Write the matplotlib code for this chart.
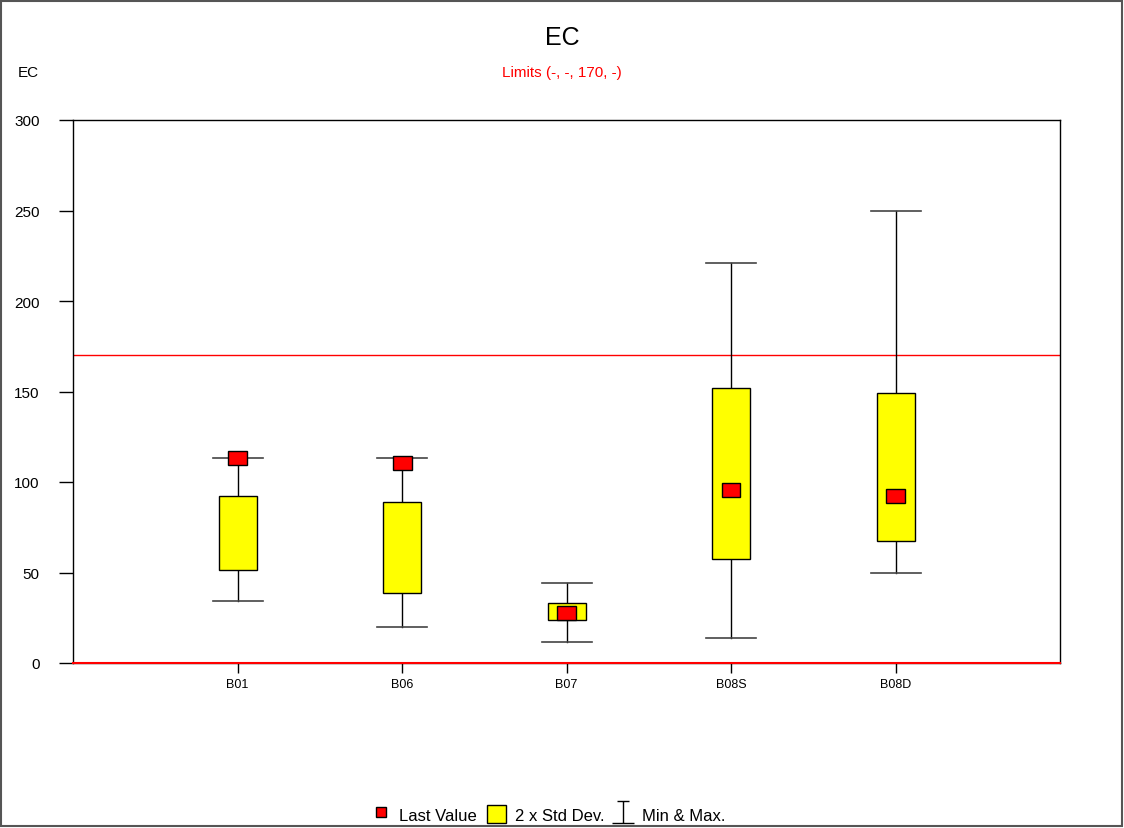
import matplotlib
matplotlib.use("Agg")
import matplotlib.pyplot as plt
from matplotlib.patches import Rectangle
from matplotlib.lines import Line2D
from matplotlib.path import Path
import numpy as np

plt.rcParams['font.family'] = ['Liberation Sans', 'DejaVu Sans']

# data
wells = ['B01', 'B06', 'B07', 'B08S', 'B08D']
min_vals = [34, 20, 11.5, 14, 50]
max_vals = [113, 113, 44, 221, 250]
box_low = [51.5, 38.5, 23.5, 57.5, 67.5]
box_high = [92.5, 89, 33, 152, 149]
last_vals = [113, 110.5, 27.5, 95.5, 92]
limit = 170
y_ticks = [0, 50, 100, 150, 200, 250, 300]

fig = plt.figure(figsize=(11.24, 8.29), dpi=100)
ax = fig.add_axes([73/1124, 1 - 664/829, (1060 - 73)/1124, (664 - 121)/829])

x = np.arange(1, len(wells) + 1)
box_w = 38 / 164.5
cap_w = 50 / 164.5
mark_w = 19 / 164.5
mark_h = 14 / 1.81

for xi, lo, hi, bl, bh, lv in zip(x, min_vals, max_vals, box_low, box_high, last_vals):
    ax.plot([xi, xi], [lo, bl], color='black', lw=1, zorder=2)
    ax.plot([xi, xi], [bh, hi], color='black', lw=1, zorder=2)
    ax.plot([xi - cap_w/2, xi + cap_w/2], [lo, lo], color='#444444', lw=1.2, zorder=2)
    ax.plot([xi - cap_w/2, xi + cap_w/2], [hi, hi], color='#444444', lw=1.2, zorder=2)
    ax.add_patch(Rectangle((xi - box_w/2, bl), box_w, bh - bl,
                           facecolor='yellow', edgecolor='black', lw=1, zorder=3))
    ax.add_patch(Rectangle((xi - mark_w/2, lv - mark_h/2), mark_w, mark_h,
                           facecolor='red', edgecolor='black', lw=1, zorder=4))

ax.axhline(limit, color='red', lw=1, zorder=1)
ax.axhline(0, color='red', lw=1.5, zorder=5, clip_on=False)

ax.set_xlim(0, 6)
ax.set_ylim(0, 300)
ax.set_yticks(y_ticks)
ax.set_yticklabels([str(v) for v in y_ticks], fontsize=11)
ax.set_xticks(x)
ax.set_xticklabels(wells, fontsize=9)
ax.tick_params(axis='y', direction='out', length=10, width=1, pad=14)
ax.tick_params(axis='x', direction='out', length=7, width=1, pad=4)
for sp in ax.spines.values():
    sp.set_linewidth(1)

fig.text(562/1124, 1 - 38/829, 'EC', ha='center', va='center', fontsize=18)
fig.text(562/1124, 1 - 73/829, 'Limits (-, -, 170, -)', ha='center', va='center',
         fontsize=11, color='red')
fig.text(28/1124, 1 - 73/829, 'EC', ha='center', va='center', fontsize=11)

# legend
minmax_icon = Path([(-0.5, 1), (0.5, 1), (0, 1), (0, -1), (-1, -1), (1, -1)],
                   [Path.MOVETO, Path.LINETO, Path.MOVETO, Path.LINETO,
                    Path.MOVETO, Path.LINETO])
handles = [
    Line2D([], [], marker='s', color='none', markerfacecolor='red',
           markeredgecolor='black', markersize=7, linestyle='none'),
    Rectangle((0, 0), 1, 1, facecolor='yellow', edgecolor='black'),
    Line2D([], [], marker=minmax_icon, color='black', markeredgewidth=1,
           markersize=16, linestyle='none'),
]
fig.legend(handles, ['Last Value', '2 x Std Dev.', 'Min & Max.'],
           loc='center', bbox_to_anchor=(0.488, 1 - 815/829), ncol=3,
           frameon=False, fontsize=12, handlelength=1.1, handleheight=1.3,
           handletextpad=0.55, columnspacing=0.6)

fig.patches.append(Rectangle((0.001, 0.002), 0.997, 0.996, transform=fig.transFigure,
                             fill=False, edgecolor='#555555', lw=1.5))

fig.savefig('out.png', dpi=100)
